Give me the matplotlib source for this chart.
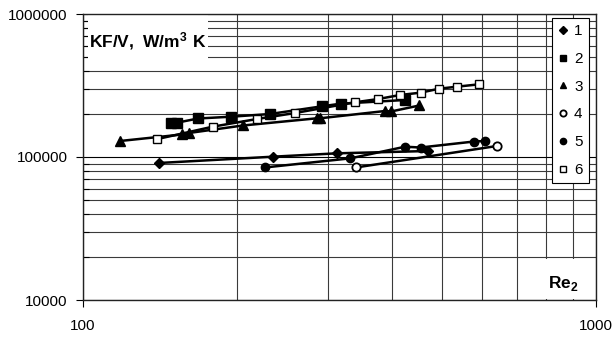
import matplotlib
matplotlib.use("Agg")
import matplotlib.pyplot as plt
from matplotlib.lines import Line2D
from matplotlib.patches import Rectangle
from matplotlib.ticker import FixedLocator, FixedFormatter, LogLocator, NullFormatter

plt.rcParams['font.family'] = ['Liberation Sans', 'DejaVu Sans']
plt.rcParams['mathtext.fontset'] = 'custom'
plt.rcParams['mathtext.rm'] = 'Liberation Sans'
plt.rcParams['mathtext.bf'] = 'Liberation Sans:bold'

# Re2 and KF/V values for each test series
re_1 = [140.6, 234.6, 312.7, 469.4]
kf_1 = [90800, 100500, 106100, 110100]

re_2 = [148.4, 152.5, 167.6, 194.3, 231.4, 292.3, 317.7, 424.4]
kf_2 = [173800, 173800, 185900, 191300, 199800, 226200, 235900, 250400]

re_3 = [118.1, 156.0, 160.9, 205.0, 285.8, 289.7, 387.9, 398.5, 452.5]
kf_3 = [129400, 143700, 147200, 166100, 186500, 186500, 209700, 208100, 229200]

re_4 = [340.5, 641.2]
kf_4 = [84500, 119400]

re_5 = [226.3, 332.2, 424.4, 454.9, 578.3, 607.6]
kf_5 = [84500, 97900, 118000, 116500, 128300, 129400]

re_6 = [139.2, 179.0, 218.4, 259.0, 339.0, 376.3, 414.9, 454.9, 494.3, 535.2, 592.2]
kf_6 = [133200, 162900, 184400, 203100, 241300, 254400, 271400, 281700, 300300, 310100, 322400]

series_labels = ['1', '2', '3', '4', '5', '6']
x_ticks = [100, 1000]
y_ticks = [10000, 100000, 1000000]

fig = plt.figure(figsize=(6.12, 3.4), dpi=100)
ax = fig.add_axes([83 / 612, 1 - 300 / 340, 513 / 612, 286 / 340])
ax.set_xscale('log')
ax.set_yscale('log')
ax.set_xlim(100, 1000)
ax.set_ylim(10000, 1000000)

# grid
ax.set_axisbelow(True)
ax.xaxis.set_minor_locator(LogLocator(base=10, subs=range(2, 10)))
ax.yaxis.set_minor_locator(LogLocator(base=10, subs=range(2, 10)))
ax.xaxis.set_minor_formatter(NullFormatter())
ax.yaxis.set_minor_formatter(NullFormatter())
ax.grid(which='major', color='black', lw=0.8)
ax.grid(which='minor', color='#3a3a3a', lw=0.8)

ax.xaxis.set_major_locator(FixedLocator(x_ticks))
ax.xaxis.set_major_formatter(FixedFormatter([str(v) for v in x_ticks]))
ax.yaxis.set_major_locator(FixedLocator(y_ticks))
ax.yaxis.set_major_formatter(FixedFormatter([str(v) for v in y_ticks]))
ax.tick_params(which='major', direction='out', length=5, width=0.8, labelsize=11, colors='black')
ax.tick_params(axis='x', which='major', pad=9)
ax.tick_params(axis='y', which='major', pad=6)
ax.tick_params(which='minor', direction='in', length=4, width=0.8)
ax.tick_params(axis='x', which='minor', length=0)
for sp in ax.spines.values():
    sp.set_color('#222222')
    sp.set_linewidth(1.0)

# white panels behind axis titles
ax.add_patch(Rectangle((0.0097, 0.832), 0.234, 0.17, transform=ax.transAxes,
                       facecolor='white', edgecolor='none', zorder=1))
ax.add_patch(Rectangle((0.9, 0.003), 0.096, 0.14, transform=ax.transAxes,
                       facecolor='white', edgecolor='none', zorder=1))

ax.text(0.0117, 0.905, r'$\mathbf{KF/V,\ W/m^3\ K}$', transform=ax.transAxes,
        fontsize=12.5, ha='left', va='center', zorder=2)
ax.text(0.937, 0.058, r'$\mathbf{Re}_{\mathbf{2}}$', transform=ax.transAxes,
        fontsize=12.5, ha='center', va='center', zorder=2)

styles = [
    dict(marker='D', ms=5.5, mfc='black', mec='black'),
    dict(marker='s', ms=6.5, mfc='black', mec='black'),
    dict(marker='^', ms=7.0, mfc='black', mec='black'),
    dict(marker='o', ms=6.0, mfc='white', mec='black', mew=1.3),
    dict(marker='o', ms=6.0, mfc='black', mec='black'),
    dict(marker='s', ms=6.0, mfc='white', mec='black', mew=1.0),
]
data = [(re_1, kf_1), (re_2, kf_2), (re_3, kf_3), (re_4, kf_4), (re_5, kf_5), (re_6, kf_6)]
for (xs, ys), st in zip(data, styles):
    ax.plot(xs, ys, color='black', lw=1.8, zorder=3, **st)

handles = []
for st in styles:
    s = dict(st)
    s['ms'] = 4.5
    handles.append(Line2D([], [], ls='none', color='black', **s))
leg = ax.legend(handles, series_labels, loc='upper left', bbox_to_anchor=(0.914, 0.986),
                borderaxespad=0, frameon=True, fancybox=False, framealpha=1,
                edgecolor='black', fontsize=11, handlelength=0.7, handletextpad=0.35,
                labelspacing=0.9, borderpad=0.4)
leg.get_frame().set_linewidth(0.8)
leg.set_zorder(5)

fig.savefig('out.png', dpi=100)
